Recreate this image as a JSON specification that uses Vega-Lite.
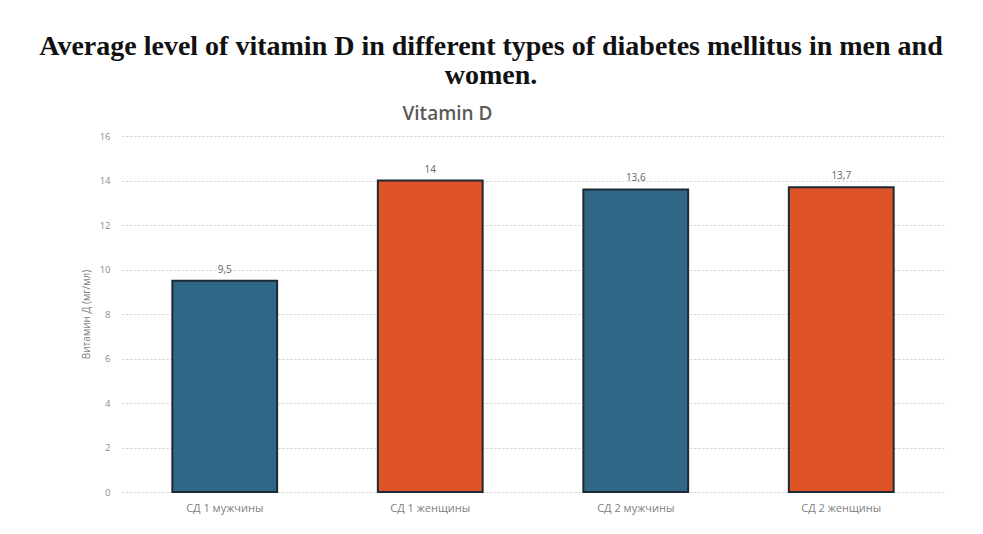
{
  "$schema": "https://vega.github.io/schema/vega-lite/v6.json",
  "width": 822,
  "height": 356,
  "autosize": "none",
  "padding": {"left": 122, "top": 136, "right": 39, "bottom": 42},
  "background": "white",
  "title": {
    "text": ["Average level of vitamin D in different types of diabetes mellitus in men and", "women."],
    "font": "Liberation Serif",
    "fontSize": 28,
    "fontWeight": "bold",
    "color": "#111111",
    "lineHeight": 29,
    "anchor": "middle",
    "dx": -42,
    "offset": 14
  },
  "data": {
    "values": [
      {"group": "СД 1 мужчины", "value": 9.5, "label": "9,5", "sex": "m"},
      {"group": "СД 1 женщины", "value": 14, "label": "14", "sex": "f"},
      {"group": "СД 2 мужчины", "value": 13.6, "label": "13,6", "sex": "m"},
      {"group": "СД 2 женщины", "value": 13.7, "label": "13,7", "sex": "f"}
    ]
  },
  "resolve": {"axis": {"x": "independent"}},
  "layer": [
    {
      "mark": {"type": "bar", "stroke": "#1c2a33", "strokeWidth": 2},
      "encoding": {
        "x": {
          "field": "group", "type": "nominal", "sort": null,
          "scale": {"paddingInner": 0.49, "paddingOuter": 0.245},
          "axis": {
            "title": null, "labelAngle": 0, "labelFont": "Open Sans", "labelFontSize": 11,
            "labelColor": "#7f7f7f", "labelPadding": 10, "ticks": false, "domain": false
          }
        },
        "y": {
          "field": "value", "type": "quantitative",
          "scale": {"domain": [0, 16]},
          "axis": {
            "title": "Витамин Д (мг/мл)", "titleFont": "Open Sans", "titleFontSize": 10,
            "titleFontWeight": "normal", "titleColor": "#7f7f7f", "titlePadding": 8,
            "values": [0, 2, 4, 6, 8, 10, 12, 14, 16],
            "labelFont": "Open Sans", "labelFontSize": 9.5, "labelColor": "#8c8c8c",
            "labelPadding": 12, "ticks": false, "domain": false,
            "gridColor": "#cfcfcf", "gridDash": [2, 2], "gridWidth": 1
          }
        },
        "color": {
          "field": "sex", "type": "nominal",
          "scale": {"domain": ["m", "f"], "range": ["#306686", "#df5328"]},
          "legend": null
        }
      }
    },
    {
      "mark": {"type": "text", "dy": -6, "baseline": "bottom", "font": "Open Sans", "fontSize": 10, "color": "#666666"},
      "encoding": {
        "x": {
          "field": "group", "type": "nominal", "sort": null,
          "axis": {
            "orient": "top", "title": "Vitamin D", "labels": false, "ticks": false, "domain": false, "grid": false,
            "titleFont": "Open Sans", "titleFontSize": 19, "titleFontWeight": 600, "titleColor": "#595959",
            "titleX": 325, "titleY": -23, "titleBaseline": "middle", "titleAlign": "center", "titleAnchor": null
          }
        },
        "y": {"field": "value", "type": "quantitative"},
        "text": {"field": "label"}
      }
    }
  ],
  "config": {"view": {"stroke": null}}
}
